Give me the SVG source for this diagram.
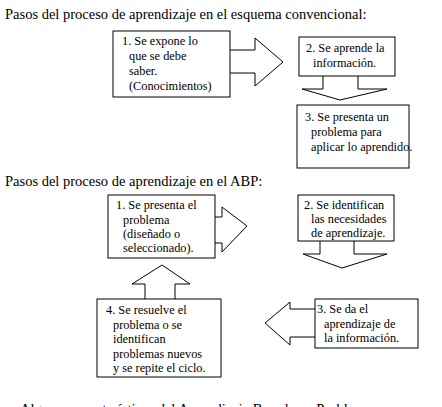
<svg xmlns="http://www.w3.org/2000/svg" width="442" height="407" viewBox="0 0 442 407">
<style>
text{font-family:'Liberation Serif','DejaVu Serif',serif;fill:#000}
.t{font-size:14.5px}
.b{font-size:12.3px}
.box{fill:#fff;stroke:#000;stroke-width:1}
.arr{fill:#fff;stroke:#000;stroke-width:1;stroke-linejoin:miter}
</style>
<rect width="442" height="407" fill="#fff"/>
<g id="titles">
<text class="t" x="5" y="19">Pasos del proceso de aprendizaje en el esquema convencional:</text>
<text class="t" x="5" y="186">Pasos del proceso de aprendizaje en el ABP:</text>
<text class="t" x="20" y="414">Algunas características del Aprendizaje Basado en Problemas</text>
</g>
<g id="connectors">
<polyline class="arr" points="230,50 255,50 255,38 283,62 255,86 255,73 230,73"/>
<polyline class="arr" points="323,76 323,89 302,89 340,100 387,89 358,89 358,76"/>
<polyline class="arr" points="215,217 222,217 222,207 247,226 222,252 222,243 215,243"/>
<polyline class="arr" points="320,241 320,254 303,254 342,268 387,254 354,254 354,241"/>
<polyline class="arr" points="315,309 290,309 290,302 265,323 290,345 290,337 315,337"/>
<polyline class="arr" points="145,299 145,284 132,284 162,265 190,284 175,284 175,299"/>
</g>
<g id="n1">
<rect class="box" x="113" y="31" width="117" height="66"/>
<text class="b" x="122" y="45">1. Se expone lo</text>
<text class="b" x="129" y="60">que se debe</text>
<text class="b" x="129" y="75">saber.</text>
<text class="b" x="129" y="90">(Conocimientos)</text>
</g>
<g id="n2">
<rect class="box" x="299" y="37" width="96" height="39"/>
<text class="b" x="306" y="52">2. Se aprende la</text>
<text class="b" x="313" y="67">información.</text>
</g>
<g id="n3">
<rect class="box" x="297" y="105" width="112" height="63"/>
<text class="b" x="305" y="121">3. Se presenta un</text>
<text class="b" x="311" y="136">problema para</text>
<text class="b" x="311" y="151">aplicar lo aprendido.</text>
</g>
<g id="b1">
<rect class="box" x="108" y="195" width="107" height="63"/>
<text class="b" x="116" y="209">1. Se presenta el</text>
<text class="b" x="123" y="224">problema</text>
<text class="b" x="123" y="238">(diseñado o</text>
<text class="b" x="123" y="252">seleccionado).</text>
</g>
<g id="b2">
<rect class="box" x="298" y="195" width="96" height="46"/>
<text class="b" x="304" y="209">2. Se identifican</text>
<text class="b" x="311" y="223">las necesidades</text>
<text class="b" x="311" y="237">de aprendizaje.</text>
</g>
<g id="b3">
<rect class="box" x="315" y="299" width="103" height="49"/>
<text class="b" x="317" y="313">3. Se da el</text>
<text class="b" x="324" y="328">aprendizaje de</text>
<text class="b" x="324" y="342">la información.</text>
</g>
<g id="b4">
<rect class="box" x="97" y="299" width="124" height="78"/>
<text class="b" x="106" y="314">4. Se resuelve el</text>
<text class="b" x="113" y="329">problema o se</text>
<text class="b" x="113" y="343">identifican</text>
<text class="b" x="113" y="358">problemas nuevos</text>
<text class="b" x="113" y="372">y se repite el ciclo.</text>
</g>
</svg>
